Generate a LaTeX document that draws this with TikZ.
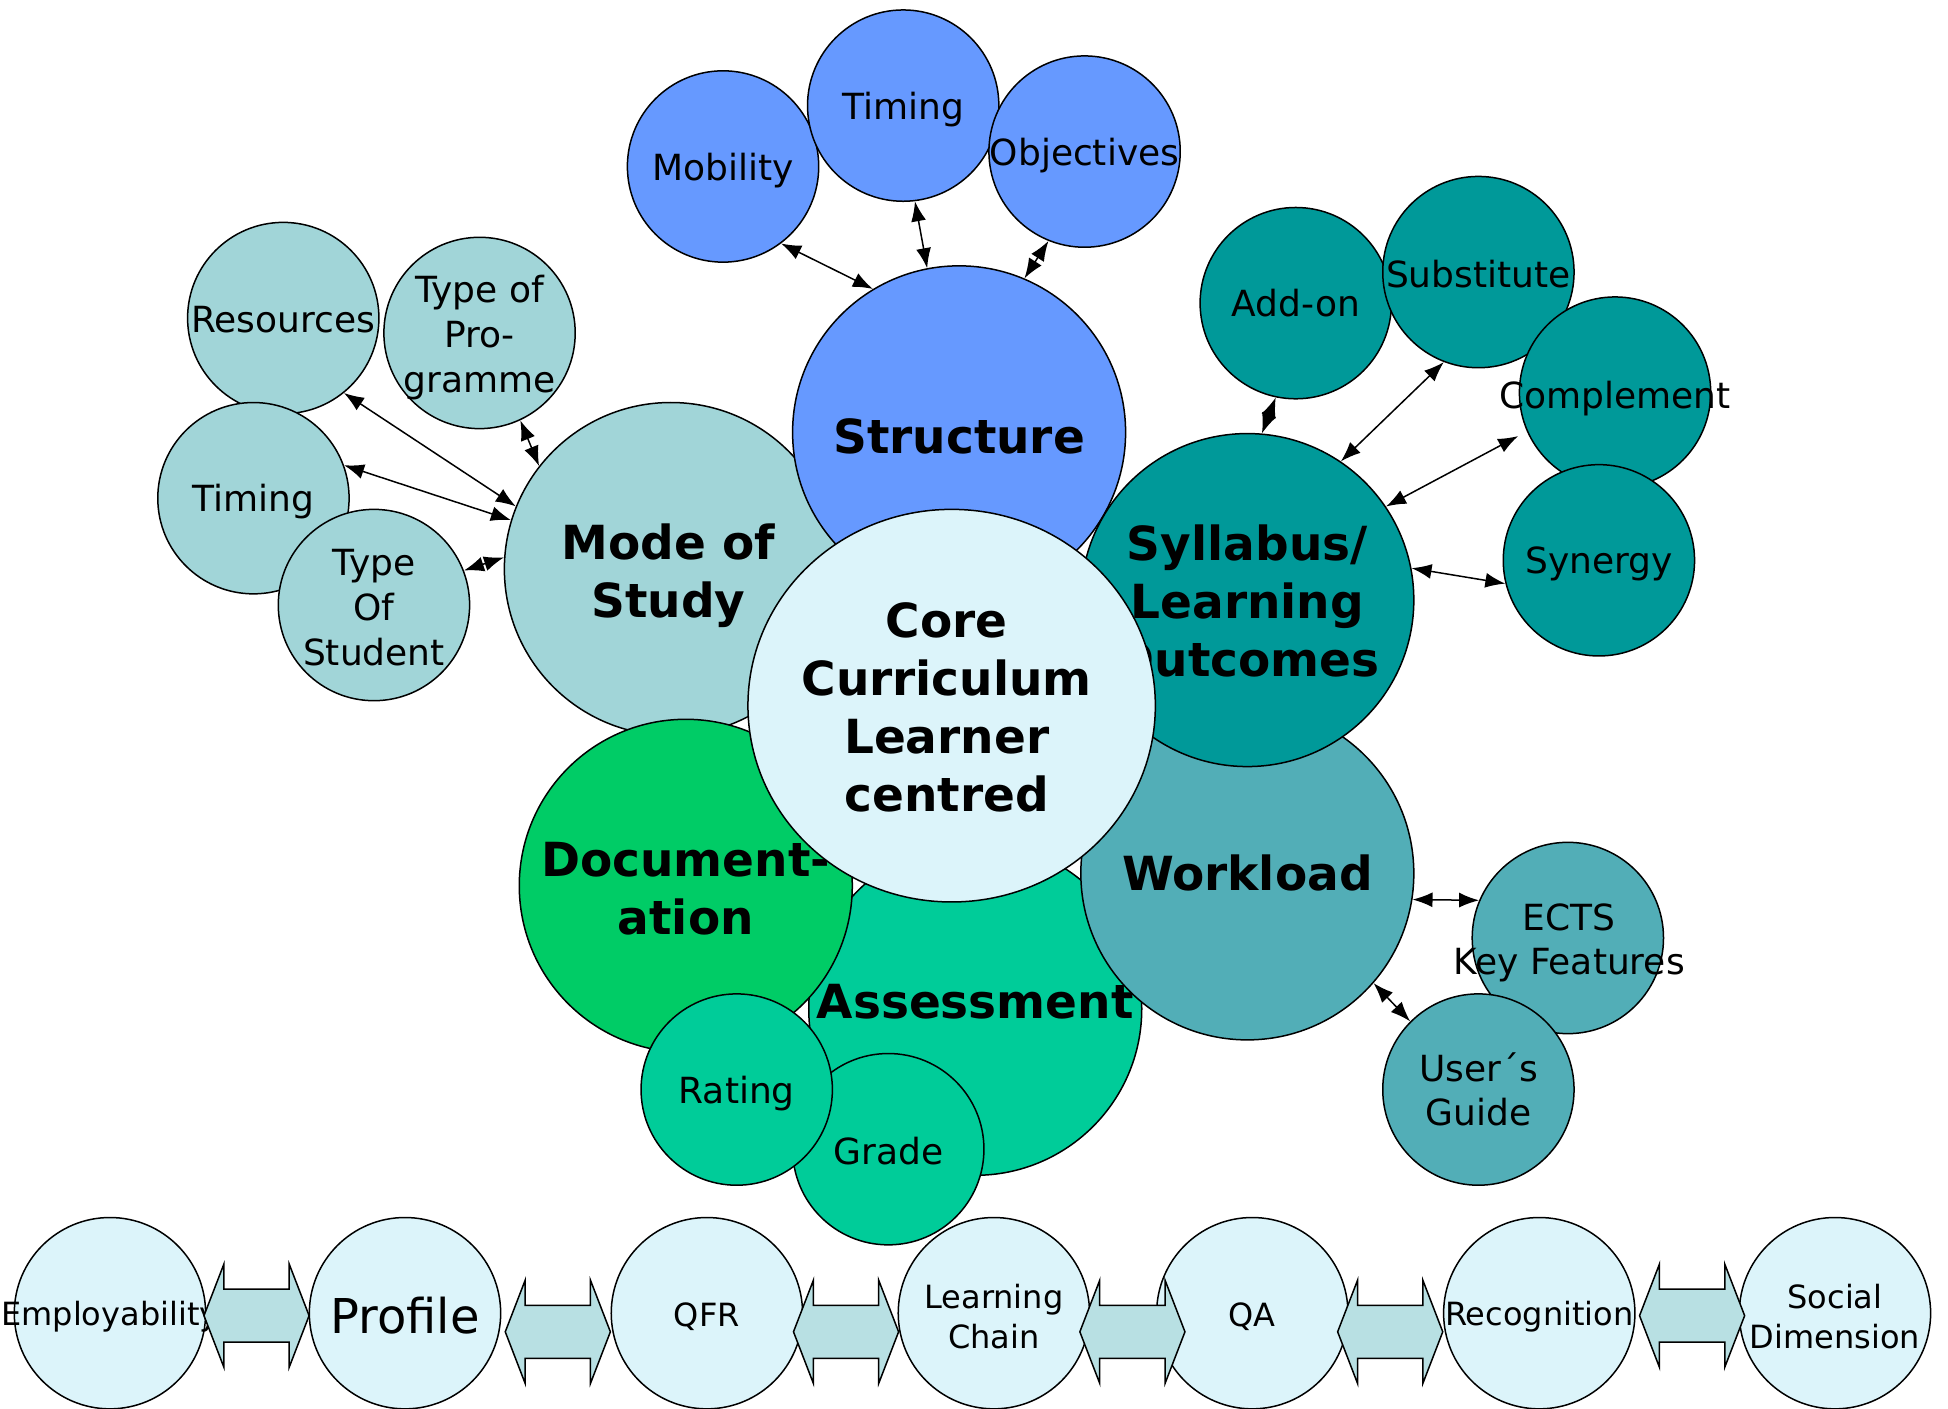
\documentclass[tikz,border=0pt]{standalone}
\usepackage{fontspec}
\setmainfont{DejaVu Sans}
\usetikzlibrary{arrows.meta,calc,shapes.geometric}
\definecolor{cStruct}{HTML}{6699FF}
\definecolor{cMode}{HTML}{A1D5D8}
\definecolor{cSyl}{HTML}{009999}
\definecolor{cWork}{HTML}{52AEB7}
\definecolor{cAss}{HTML}{00CC99}
\definecolor{cDoc}{HTML}{00CC66}
\definecolor{cCore}{HTML}{DCF4FA}
\definecolor{cArr}{HTML}{B8E0E3}
\begin{document}
\begin{tikzpicture}[x=0.62115pt, y=-0.62115pt,
  bub/.style={circle, draw=black, line width=0.75pt, inner sep=0pt, minimum size=95.66pt},
  bigbub/.style={circle, draw=black, line width=0.75pt, inner sep=0pt, minimum size=166.5pt},
  stxt/.style={align=center, font=\fontsize{18}{22.4}\selectfont, inner sep=0pt, yshift=-1.8pt},
  btxt/.style={align=center, font=\fontsize{23.5}{29}\selectfont\bfseries, inner sep=0pt},
  rtxt/.style={align=center, font=\fontsize{16}{20}\selectfont, inner sep=0pt, yshift=-1.6pt},
  ptxt/.style={align=center, font=\fontsize{24}{28}\selectfont, inner sep=0pt, yshift=-1pt},
  conn/.style={{Latex[length=10pt,width=7.5pt]}-{Latex[length=10pt,width=7.5pt]}, line width=0.75pt},
  dblarr/.pic={\draw[fill=cArr, line width=0.75pt, line join=miter]
     (-42.3,0) -- (-26.3,-41.5) -- (-26.3,-21.3) -- (26.3,-21.3) -- (26.3,-41.5) -- (42.3,0)
     -- (26.3,41.5) -- (26.3,21.3) -- (-26.3,21.3) -- (-26.3,41.5) -- cycle;}
]
\useasboundingbox (0,0) rectangle (1568,1134);

% Mode of Study satellites
\node[bub, fill=cMode] (res) at (228,256) {};
\node[stxt] (res-t) at (228,254.5) {Resources};
\node[bub, fill=cMode] (tprog) at (386,268) {};
\node[stxt] (tprog-t) at (386,269) {Type of\\Pro-\\gramme};
\node[bub, fill=cMode] (timl) at (204,401) {};
\node[stxt] (timl-t) at (timl) {Timing};
\node[bub, fill=cMode] (tstud) at (301,487) {};
\node[stxt] (tstud-t) at (301,486) {Type\\Of\\Student};

% Structure satellites
\node[bub, fill=cStruct] (mob) at (582,134) {};
\node[stxt] (mob-t) at (mob) {Mobility};
\node[bub, fill=cStruct] (timt) at (727,85) {};
\node[stxt] (timt-t) at (timt) {Timing};
\node[bub, fill=cStruct] (obj) at (873,122) {};
\node[stxt] (obj-t) at (obj) {Objectives};

% Syllabus satellites
\node[bub, fill=cSyl] (addon) at (1043,244) {};
\node[stxt] (addon-t) at (1043,241) {Add-on};
\node[bub, fill=cSyl] (subst) at (1190,219) {};
\node[stxt] (subst-t) at (1190,218) {Substitute};
\node[bub, fill=cSyl] (compl) at (1300,316) {};
\node[stxt] (compl-t) at (1300,318) {Complement};
\node[bub, fill=cSyl] (syn) at (1287,451) {};
\node[stxt] (syn-t) at (syn) {Synergy};

% Workload satellites
\node[bub, fill=cWork] (ects) at (1262,755) {};
\node[stxt] (ects-t) at (1263,756) {ECTS\\Key Features};
\node[bub, fill=cWork] (ug) at (1190,877) {};
\node[stxt] (ug-t) at (1190,874) {User´s\\Guide};

% Big bubbles
\node[bigbub, fill=cMode] (mode) at (540,458) {};
\node[btxt] (mode-t) at (538,463) {Mode of\\Study};
\node[bigbub, fill=cStruct] (str) at (772,348) {};
\node[btxt] (str-t) at (772,351) {Structure};
\node[bigbub, fill=cAss] (ass) at (785,812) {};
\node[btxt] (ass-t) at (785,806) {Assessment};
\node[bigbub, fill=cWork] (work) at (1004,703) {};
\node[btxt] (work-t) at (work) {Workload};
\node[bigbub, fill=cSyl] (syl) at (1004,483) {};
\node[btxt] (syl-t) at (1004,484) {Syllabus/\\Learning\\Outcomes};
\node[bigbub, fill=cDoc] (doc) at (552,713) {};
\node[btxt] (doc-t) at (552,715) {Document-\\ation};
\node[bub, fill=cAss] (grade) at (715,925) {};
\node[stxt] (grade-t) at (715,924) {Grade};
\node[bub, fill=cAss] (rating) at (593,877) {};
\node[stxt] (rating-t) at (rating) {Rating};

% Core
\node[ellipse, draw=black, line width=0.75pt, fill=cCore, inner sep=0pt,
      minimum width=203.7pt, minimum height=196.3pt] (core) at (766,568) {};
\node[btxt] (core-t) at (762,569.5) {Core\\Curriculum\\Learner\\centred};

% Connectors
\draw[conn] (mob.-53) -- (str.121);
\draw[conn] (timt.-83) -- (str.101);
\draw[conn] (obj.-112) -- (str.67);
\draw[conn] (res.-51) -- (mode.158);
\draw[conn] (timl.20) -- (mode.163.5);
\draw[conn] (tprog.-65) -- (mode.142);
\draw[conn] (tstud.21) -- (mode.176);
\draw[conn] (addon.-102) -- (syl.85);
\draw[conn] (subst.-111.5) -- (syl.56);
\draw[conn] ($(compl.center)+(-78,35)$) coordinate (complp) -- (syl.34);
\draw[conn] (syn.-166) -- (syl.11);
\draw[conn] (work.-9) -- (ects.157.5);
\draw[conn] (work.-41) -- (ug.135);

% Bottom row
\node[bub, fill=cCore] (emp) at (88.5,1057) {};
\node[rtxt] (emp-t) at (emp) {Employability};
\node[bub, fill=cCore] (prof) at (326,1057) {};
\node[ptxt] (prof-t) at (prof) {Profile};
\node[bub, fill=cCore] (qfr) at (569,1057) {};
\node[rtxt] (qfr-t) at (qfr) {QFR};
\node[bub, fill=cCore] (lchain) at (800,1057) {};
\node[rtxt] (lchain-t) at (lchain) {Learning\\Chain};
\node[bub, fill=cCore] (qa) at (1008,1057) {};
\node[rtxt] (qa-t) at (qa) {QA};
\node[bub, fill=cCore] (recog) at (1239,1057) {};
\node[rtxt] (recog-t) at (recog) {Recognition};
\node[bub, fill=cCore] (social) at (1477,1057) {};
\node[rtxt] (social-t) at (social) {Social\\Dimension};

\pic at (206.5,1059) {dblarr};
\pic at (449,1072) {dblarr};
\pic at (681,1072) {dblarr};
\pic at (911.5,1072) {dblarr};
\pic at (1119,1072) {dblarr};
\pic at (1362,1059) {dblarr};
\end{tikzpicture}
\end{document}
